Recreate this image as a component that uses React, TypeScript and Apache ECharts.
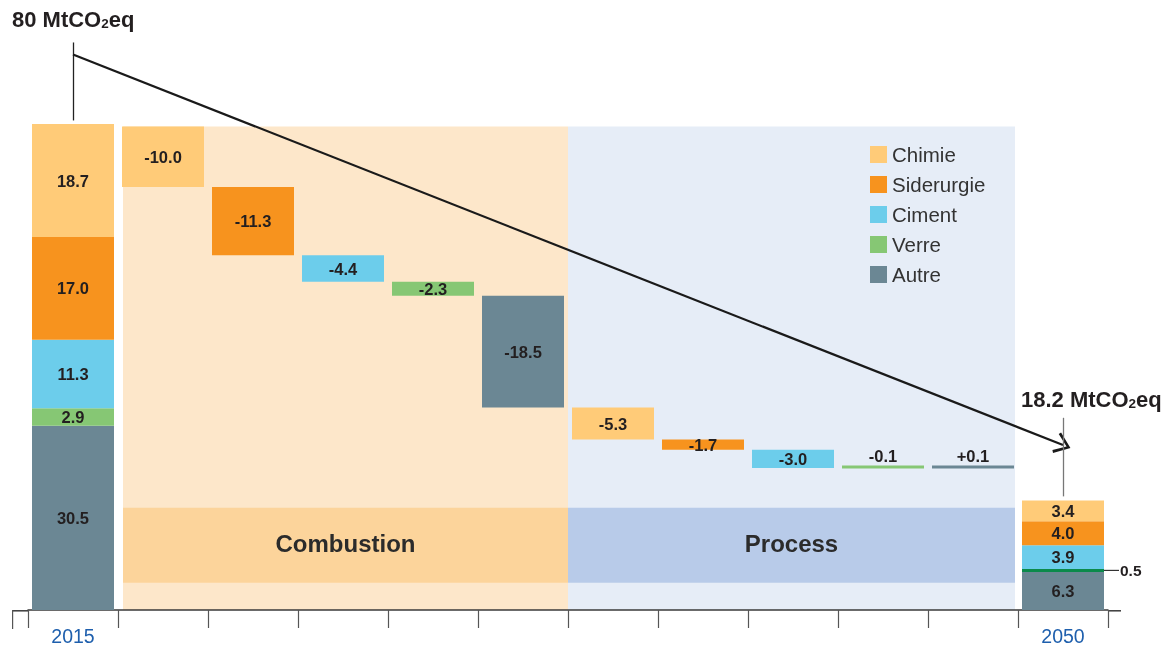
import React, { useEffect, useRef } from 'react';
import * as echarts from 'echarts';

const categories = ['2015', 'c1', 'c2', 'c3', 'c4', 'c5', 'c6', 'c7', 'c8', 'c9', 'c10', '2050'];
const sectors = ['Chimie', 'Siderurgie', 'Ciment', 'Verre', 'Autre'];
const sectorColors = ['#FFCB78', '#F7931E', '#6CCDEB', '#86C774', '#6B8794'];
const values2015 = [18.7, 17.0, 11.3, 2.9, 30.5];
const values2050 = [3.4, 4.0, 3.9, 0.5, 6.3];
const stepSectors = ['Chimie', 'Siderurgie', 'Ciment', 'Verre', 'Autre', 'Chimie', 'Siderurgie', 'Ciment', 'Verre', 'Autre'];
const stepDeltas = [-10.0, -11.3, -4.4, -2.3, -18.5, -5.3, -1.7, -3.0, -0.1, 0.1];
const startTotal = 80;
const groupNames = ['Combustion', 'Process'];
const groupStart = [1, 6];
const groupEnd = [5, 10];
const totalLabels = ['80', '18.2'];

const FONT = 'Liberation Sans, Arial, Helvetica, sans-serif';
const LABEL_COLOR = '#231F20';

export default function App() {
  const ref = useRef<HTMLDivElement>(null);

  useEffect(() => {
    if (!ref.current) return;
    const chart = echarts.init(ref.current, undefined, { renderer: 'svg' });

    let level = startTotal;
    const bases: number[] = [];
    const heights: number[] = [];
    stepDeltas.forEach((d) => {
      const next = Math.round((level + d) * 10) / 10;
      bases.push(Math.min(level, next));
      heights.push(Math.abs(d));
      level = next;
    });

    const n = categories.length;
    const baseData = categories.map((_, i) => (i === 0 || i === n - 1 ? '-' : bases[i - 1]));

    const labelBase = {
      show: true,
      color: LABEL_COLOR,
      fontWeight: 'bold' as const,
      fontSize: 16.5,
      fontFamily: FONT,
    };

    const sectorSeries = sectors
      .map((s, si) => {
        const data = categories.map((_, i) => {
          if (i === 0) {
            return { value: values2015[si], label: { ...labelBase, position: 'inside', formatter: values2015[si].toFixed(1) } };
          }
          if (i === n - 1) {
            if (s === 'Verre') {
              return {
                value: values2050[si],
                itemStyle: { color: '#0B8A4B' },
                label: {
                  ...labelBase,
                  position: 'right',
                  distance: 0,
                  formatter: '{l|}{v|' + values2050[si].toFixed(1) + '}',
                  rich: {
                    l: { width: 15, height: 1.2, backgroundColor: '#333' },
                    v: { color: LABEL_COLOR, fontWeight: 'bold', fontSize: 15.5, fontFamily: FONT, padding: [0, 0, 0, 1] },
                  },
                },
              };
            }
            return { value: values2050[si], label: { ...labelBase, position: 'inside', formatter: values2050[si].toFixed(1) } };
          }
          const k = i - 1;
          if (stepSectors[k] !== s) return '-';
          const d = stepDeltas[k];
          const txt = (d > 0 ? '+' : '') + d.toFixed(1);
          return {
            value: heights[k],
            label: { ...labelBase, position: heights[k] < 1 ? 'top' : 'inside', distance: 1, formatter: txt },
          };
        });
        return {
          name: s,
          type: 'bar',
          stack: 'w',
          barWidth: 82,
          barMinHeight: 3,
          z: 3,
          itemStyle: { color: sectorColors[si] },
          data,
        };
      })
      .reverse();

    const arrowPath = 'path://M5,0 L10,9 L8.9,10 L5,2.6 L1.1,10 L0,9 Z';

    const richTotal = {
      a: { fontSize: 22, fontWeight: 'bold', fill: '#231F20', fontFamily: FONT, lineHeight: 32, verticalAlign: 'bottom' },
      s: { fontSize: 13.5, fontWeight: 'bold', fill: '#231F20', fontFamily: FONT, lineHeight: 13, verticalAlign: 'bottom' },
    };

    const option: any = {
      animation: false,
      textStyle: { fontFamily: FONT },
      grid: { left: 28, right: 54, top: 5.6, bottom: 36, containLabel: false },
      legend: {
        orient: 'vertical',
        left: 870,
        top: 144,
        padding: 0,
        itemWidth: 17,
        itemHeight: 17,
        itemGap: 9,
        icon: 'rect',
        data: sectors,
        textStyle: { fontSize: 20.5, lineHeight: 20, color: '#333', fontFamily: FONT },
        selectedMode: false,
      },
      xAxis: {
        type: 'category',
        data: categories,
        boundaryGap: true,
        axisLine: { show: true, lineStyle: { color: '#3a3a3a', width: 1.5 } },
        axisTick: { show: true, interval: 0, length: 18, lineStyle: { color: '#555', width: 1.2 } },
        axisLabel: {
          interval: 0,
          margin: 16,
          color: '#1E5FAD',
          fontSize: 19.5,
          fontFamily: FONT,
          formatter: (v: string) => (v === '2015' || v === '2050' ? v : ''),
        },
      },
      yAxis: { type: 'value', min: 0, max: 100, show: false },
      series: [
        {
          type: 'custom',
          name: 'groups',
          z: 0,
          silent: true,
          coordinateSystem: 'cartesian2d',
          encode: { x: 0, y: 2 },
          data: groupNames.map((_, i) => [groupStart[i], groupEnd[i], startTotal, 16.9, 4.5]),
          renderItem: (params: any, api: any) => {
            const i = params.dataIndex;
            const s = api.value(0);
            const e = api.value(1);
            const bw = api.size([1, 0])[0];
            const x0 = api.coord([s, 0])[0] - bw / 2 + (i === 0 ? 5 : 0);
            const x1 = api.coord([e, 0])[0] + bw / 2 - (i === 1 ? 3 : 0);
            const yTop = api.coord([s, api.value(2)])[1];
            const yBot = api.coord([s, 0])[1];
            const bTop = api.coord([s, api.value(3)])[1];
            const bBot = api.coord([s, api.value(4)])[1];
            const bg = i === 0 ? '#FDE7CA' : '#E6EDF7';
            const box = i === 0 ? '#FCD49B' : '#B8CBE9';
            return {
              type: 'group',
              children: [
                { type: 'rect', shape: { x: x0, y: yTop, width: x1 - x0, height: yBot - yTop }, style: { fill: bg } },
                { type: 'rect', shape: { x: x0, y: bTop, width: x1 - x0, height: bBot - bTop }, style: { fill: box } },
                {
                  type: 'text',
                  style: {
                    text: groupNames[i],
                    x: (x0 + x1) / 2,
                    y: (bTop + bBot) / 2 - 2,
                    align: 'center',
                    verticalAlign: 'middle',
                    fill: '#2B2B2B',
                    font: 'bold 24px ' + FONT,
                  },
                },
              ],
            };
          },
        },
        {
          name: 'base',
          type: 'bar',
          stack: 'w',
          barWidth: 82,
          z: 3,
          silent: true,
          itemStyle: { color: 'rgba(0,0,0,0)' },
          data: baseData,
          markLine: {
            silent: true,
            symbol: ['none', 'none'],
            label: { show: false },
            animation: false,
            data: [
              [
                { coord: ['2015', 81.0], lineStyle: { color: '#222', width: 1.3, type: 'solid' } },
                { coord: ['2015', 93.9] },
              ],
              [
                {
                  coord: ['2015', 91.9],
                  symbol: 'none',
                  lineStyle: { color: '#1a1a1a', width: 2.2, type: 'solid' },
                },
                { coord: ['2050', 27.3], symbol: arrowPath, symbolSize: [22, 16] },
              ],
              [
                { coord: ['2050', 18.8], lineStyle: { color: '#777', width: 1.3, type: 'solid' } },
                { coord: ['2050', 31.8] },
              ],
            ],
          },
        },
        ...sectorSeries,
      ],
      graphic: [
        { type: 'line', shape: { x1: 12, y1: 610.8, x2: 28, y2: 610.8 }, style: { stroke: '#3a3a3a', lineWidth: 1.5 } },
        { type: 'line', shape: { x1: 12.6, y1: 610, x2: 12.6, y2: 629 }, style: { stroke: '#555', lineWidth: 1.2 } },
        { type: 'line', shape: { x1: 1108, y1: 610.8, x2: 1121, y2: 610.8 }, style: { stroke: '#3a3a3a', lineWidth: 1.5 } },
        {
          type: 'text',
          left: 12,
          top: 8,
          style: { text: '{a|' + totalLabels[0] + ' MtCO}{s|2}{a|eq}', rich: richTotal },
        },
        {
          type: 'text',
          left: 1021,
          top: 388,
          style: { text: '{a|' + totalLabels[1] + ' MtCO}{s|2}{a|eq}', rich: richTotal },
        },
      ],
    };

    chart.setOption(option);
    return () => chart.dispose();
  }, []);

  return <div ref={ref} style={{ position: 'fixed', left: 0, top: 0, width: 1162, height: 646 }} />;
}
